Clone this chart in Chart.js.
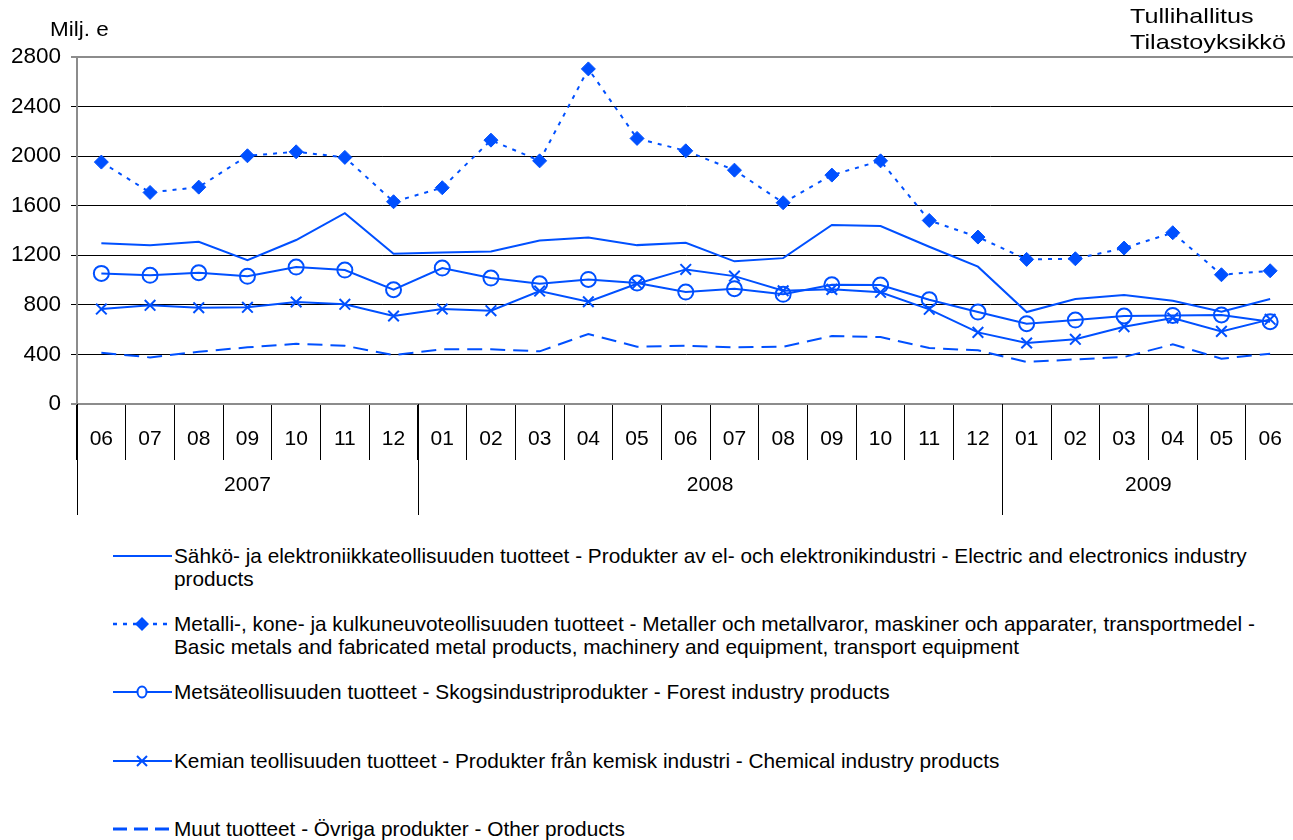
<!DOCTYPE html>
<html>
<head>
<meta charset="utf-8">
<script src="https://cdn.jsdelivr.net/npm/chart.js@4.4.1/dist/chart.umd.min.js"></script>
<style>
    body { margin: 0; background: #fff; font-family: "Liberation Sans", Arial, sans-serif; color: #000; }
    #wrap { position: relative; width: 1293px; height: 840px; overflow: hidden; }
    #chart { position: absolute; left: 0; top: 0; }
    .txt { position: absolute; font-size: 21px; line-height: 26px; white-space: nowrap; transform-origin: 0 0; }
    .item { position: absolute; left: 113px; }
    .item svg { position: absolute; left: 0; top: 0; }
    .item .lbl { position: absolute; left: 61px; top: 0; font-size: 20.8px; line-height: 23px; white-space: nowrap; }
</style>
</head>
<body>
<div id="wrap">
    <canvas id="chart" width="1304" height="525"></canvas>
    <div class="txt" style="left:50px; top:16px; transform: scaleX(1.07);">Milj. e</div>
    <div class="txt" style="left:1130px; top:3px; transform: scaleX(1.2);">Tullihallitus<br>Tilastoyksikkö</div>
    <div id="legend"></div>
</div>
<script>
// months on the x axis, years grouped below
var months = ['06', '07', '08', '09', '10', '11', '12', '01', '02', '03', '04', '05', '06',
    '07', '08', '09', '10', '11', '12', '01', '02', '03', '04', '05', '06'];
var years = ['2007', '2008', '2009'];
var yearStart = [0, 7, 19];

var yTicks = [0, 400, 800, 1200, 1600, 2000, 2400, 2800];

// series, milj. euroa
var electric = [1298, 1280, 1309, 1161, 1323, 1540, 1212, 1223, 1231, 1320, 1344, 1282, 1301,
    1151, 1177, 1444, 1436, 1269, 1108, 742, 847, 879, 833, 744, 847];
var metal = [1952, 1707, 1750, 2003, 2035, 1990, 1632, 1745, 2129, 1962, 2704, 2143, 2043,
    1887, 1624, 1847, 1962, 1481, 1347, 1167, 1172, 1258, 1382, 1043, 1075];
var forest = [1054, 1038, 1059, 1030, 1105, 1081, 922, 1097, 1016, 970, 1005, 976, 903,
    930, 885, 962, 960, 841, 742, 648, 677, 710, 715, 718, 664];
var chemical = [766, 796, 777, 780, 823, 804, 710, 766, 753, 911, 825, 970, 1086,
    1032, 914, 925, 901, 764, 578, 492, 522, 624, 694, 586, 683];
var other = [414, 376, 422, 457, 486, 470, 395, 441, 441, 425, 565, 462, 470,
    457, 462, 548, 540, 452, 433, 339, 360, 379, 481, 366, 406];

var seriesNames = [
    ['Sähkö- ja elektroniikkateollisuuden tuotteet - Produkter av el- och elektronikindustri - Electric and electronics industry', 'products'],
    ['Metalli-, kone- ja kulkuneuvoteollisuuden tuotteet - Metaller och metallvaror, maskiner och apparater, transportmedel -', 'Basic metals and fabricated metal products, machinery and equipment, transport equipment'],
    ['Metsäteollisuuden tuotteet - Skogsindustriprodukter - Forest industry products'],
    ['Kemian teollisuuden tuotteet - Produkter från kemisk industri - Chemical industry products'],
    ['Muut tuotteet - Övriga produkter - Other products']
];

var blue = '#0050ff';
var font = { family: '"Liberation Sans", Arial, sans-serif', size: 21 };

// year row under the month labels
var yearRow = {
    id: 'yearRow',
    afterDraw: function(chart) {
        var ctx = chart.ctx;
        var xs = chart.scales.x;
        var step = xs.getPixelForValue(1) - xs.getPixelForValue(0);
        ctx.save();
        ctx.strokeStyle = '#000';
        ctx.lineWidth = 1;
        ctx.fillStyle = '#000';
        ctx.font = '21px "Liberation Sans", Arial, sans-serif';
        ctx.textAlign = 'center';
        ctx.textBaseline = 'middle';
        for (var i = 0; i < years.length; i++) {
            var a = xs.getPixelForValue(yearStart[i]) - step / 2;
            var last = i + 1 < years.length ? yearStart[i + 1] - 1 : months.length - 1;
            var b = xs.getPixelForValue(last) + step / 2;
            ctx.beginPath();
            ctx.moveTo(Math.round(a) + 0.5, xs.top);
            ctx.lineTo(Math.round(a) + 0.5, xs.top + 111);
            ctx.stroke();
            ctx.fillText(years[i], (a + b) / 2, xs.top + 81);
        }
        ctx.restore();
    }
};

var ctx = document.getElementById('chart').getContext('2d');
var chart = new Chart(ctx, {
    type: 'line',
    data: {
        labels: months,
        datasets: [{
            label: seriesNames[0].join(' '),
            data: electric,
            borderColor: blue,
            borderWidth: 2,
            pointRadius: 0
        }, {
            label: seriesNames[1].join(' '),
            data: metal,
            borderColor: blue,
            borderWidth: 2,
            borderDash: [4, 6],
            pointStyle: 'rectRot',
            pointRadius: 7,
            pointBackgroundColor: blue,
            pointBorderColor: blue,
            pointBorderWidth: 1
        }, {
            label: seriesNames[2].join(' '),
            data: forest,
            borderColor: blue,
            borderWidth: 2,
            pointStyle: 'circle',
            pointRadius: 7.5,
            pointBackgroundColor: 'rgba(0,0,0,0)',
            pointBorderColor: blue,
            pointBorderWidth: 2
        }, {
            label: seriesNames[3].join(' '),
            data: chemical,
            borderColor: blue,
            borderWidth: 2,
            pointStyle: 'crossRot',
            pointRadius: 7.5,
            pointBorderColor: blue,
            pointBorderWidth: 2
        }, {
            label: seriesNames[4].join(' '),
            data: other,
            borderColor: blue,
            borderWidth: 2,
            borderDash: [15, 8],
            pointRadius: 0
        }]
    },
    options: {
        responsive: false,
        animation: false,
        layout: { padding: { top: 57, left: 0, right: 0, bottom: 0 } },
        plugins: {
            legend: { display: false },
            tooltip: { enabled: false }
        },
        scales: {
            x: {
                offset: true,
                grid: {
                    offset: true,
                    drawOnChartArea: false,
                    tickLength: 56,
                    color: '#000',
                    lineWidth: 1
                },
                border: { color: '#8c8c8c', width: 2 },
                ticks: { color: '#000', font: font, padding: -33, maxRotation: 0, autoSkip: false },
                afterFit: function(scale) { scale.height = 121; }
            },
            y: {
                min: 0,
                max: 2800,
                afterBuildTicks: function(scale) {
                    scale.ticks = yTicks.map(function(v) { return { value: v }; });
                },
                grid: {
                    tickLength: 6,
                    color: function(c) { return (c.tick.value === 2800 || c.tick.value === 0) ? '#8c8c8c' : '#000'; },
                    lineWidth: function(c) { return (c.tick.value === 2800 || c.tick.value === 0) ? 2 : 1; }
                },
                border: { color: '#8c8c8c', width: 2 },
                ticks: {
                    color: '#000',
                    font: { family: font.family, size: 22.5 },
                    padding: 10,
                    callback: function(v) { return String(v); }
                },
                afterFit: function(scale) { scale.width = 77; }
            }
        }
    },
    plugins: [yearRow]
});

// legend built from the datasets
var rowTops = [544, 612, 680, 749, 817];
var samples = [
    '<line x1="0" y1="12" x2="59" y2="12" stroke="' + blue + '" stroke-width="2"/>',
    '<line x1="0" y1="12" x2="59" y2="12" stroke="' + blue + '" stroke-width="2.5" stroke-dasharray="4,6"/>' +
        '<polygon points="29,5 36,12 29,19 22,12" fill="' + blue + '"/>',
    '<line x1="0" y1="12" x2="59" y2="12" stroke="' + blue + '" stroke-width="2"/>' +
        '<ellipse cx="29" cy="12" rx="4.5" ry="5.5" fill="#fff" stroke="' + blue + '" stroke-width="2"/>',
    '<line x1="0" y1="12" x2="59" y2="12" stroke="' + blue + '" stroke-width="2"/>' +
        '<path d="M24,7 L34,17 M34,7 L24,17" stroke="' + blue + '" stroke-width="2"/>',
    '<line x1="0" y1="12" x2="59" y2="12" stroke="' + blue + '" stroke-width="3" stroke-dasharray="14,7"/>'
];
var legend = document.getElementById('legend');
seriesNames.forEach(function(name, i) {
    var el = document.createElement('div');
    el.className = 'item';
    el.style.top = rowTops[i] + 'px';
    el.innerHTML = '<svg width="60" height="24">' + samples[i] + '</svg>' +
        '<div class="lbl">' + name.join('<br>') + '</div>';
    legend.appendChild(el);
});
</script>
</body>
</html>
